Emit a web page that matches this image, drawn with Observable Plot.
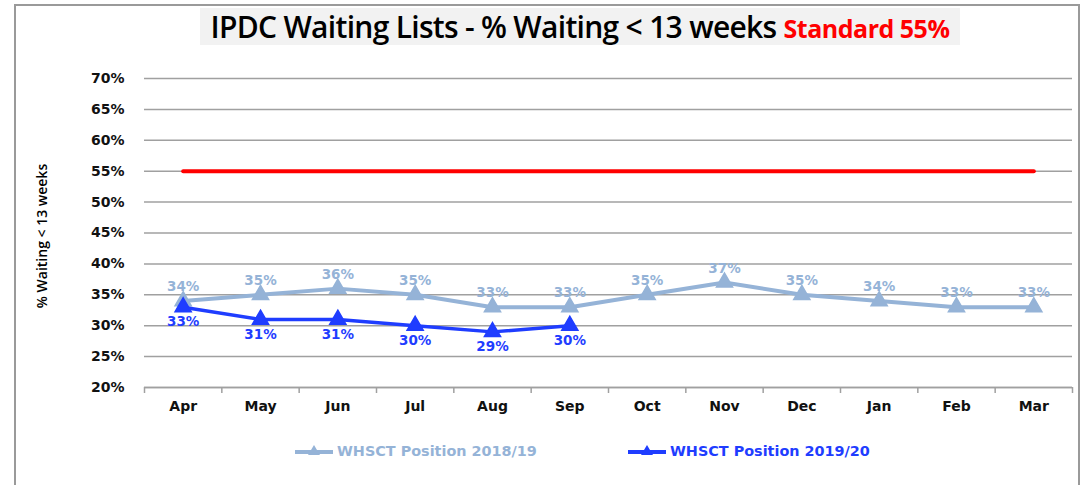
<!DOCTYPE html>
<html>
<head>
<meta charset="utf-8">
<script src="https://cdn.jsdelivr.net/npm/d3@7"></script>
<script src="https://cdn.jsdelivr.net/npm/@observablehq/plot@0.6"></script>
<style>
  html, body { margin: 0; padding: 0; background: #fff; }
  #page { position: relative; width: 1087px; height: 485px; overflow: hidden; background: #fff; }
  #frame { position: absolute; left: 14px; top: 4px; width: 1066px; height: 520px; border: 2px solid #9a9a9a; box-sizing: border-box; }
  #title { position: absolute; left: 200px; top: 8px; width: 760px; height: 37px; background: #f2f2f2;
           font-family: "Open Sans", sans-serif; font-weight: 600; font-size: 30px; line-height: 37px;
           text-align: center; color: #000; white-space: nowrap; letter-spacing: -0.7px; }
  #title .std { color: #ff0000; font-size: 25px; font-weight: 700; letter-spacing: -0.5px; }
  #chart { position: absolute; left: 0; top: 0; }
  #legend { position: absolute; top: 440px; left: 0; width: 1087px; height: 22px;
            font-family: "DejaVu Sans", sans-serif; font-weight: bold; font-size: 14.4px; }
  .item { position: absolute; top: 0; display: flex; align-items: center; height: 22px; white-space: nowrap; }
  .item svg { margin-right: 3px; }
</style>
</head>
<body>
<div id="page">
  <div id="frame"></div>
  <div id="chart"></div>
  <div id="title">IPDC Waiting Lists - % Waiting &lt; 13 weeks <span class="std">Standard 55%</span></div>
  <div id="legend"></div>
</div>
<script>
const months = ["Apr","May","Jun","Jul","Aug","Sep","Oct","Nov","Dec","Jan","Feb","Mar"];
const pos1819 = [34,35,36,35,33,33,35,37,35,34,33,33];
const pos1920 = [33,31,31,30,29,30];
const standard = 55;
const yTicks = [20,25,30,35,40,45,50,55,60,65,70];
const seriesNames = ["WHSCT Position 2018/19", "WHSCT Position 2019/20"];
const yTitle = "% Waiting < 13 weeks";

const lightC = "#95b3d7";
const darkC = "#1f3dff";

const d1819 = pos1819.map((v, i) => ({i, v}));
const d1920 = pos1920.map((v, i) => ({i, v}));
const dStd = months.map((m, i) => ({i, v: standard}));
const boundaries = d3.range(months.length + 1).map(k => k - 0.5);

const chart = Plot.plot({
  width: 1087,
  height: 430,
  marginLeft: 144,
  marginRight: 15,
  marginTop: 78,
  marginBottom: 43,
  style: {background: "transparent", overflow: "visible"},
  x: {type: "linear", domain: [-0.5, months.length - 0.5]},
  y: {domain: [20, 70]},
  marks: [
    Plot.gridY(yTicks, {stroke: "#a0a0a0", strokeOpacity: 1, strokeWidth: 1.5}),
    Plot.ruleY([20], {stroke: "#a0a0a0", strokeWidth: 1.5}),
    Plot.axisX({ticks: boundaries, tickSize: 6, tickFormat: () => "", stroke: "#a0a0a0", strokeWidth: 1.5, label: null}),
    Plot.axisX({ticks: d3.range(months.length), tickSize: 0, tickPadding: 14, tickFormat: i => months[i],
      fontSize: 14, fontWeight: "bold", fontFamily: "DejaVu Sans", fill: "#111", label: null}),
    Plot.axisY({ticks: yTicks, tickSize: 0, tickPadding: 20, tickFormat: d => d + "%",
      fontSize: 14, fontWeight: "bold", fontFamily: "DejaVu Sans", fill: "#111", label: null}),
    Plot.text([yTitle], {frameAnchor: "left", textAnchor: "middle", dx: -102, dy: 3, rotate: -90, fontSize: 14,
      fontWeight: 600, fontFamily: "Open Sans", fill: "#000"}),
    Plot.line(dStd, {x: "i", y: "v", stroke: "#ff0000", strokeWidth: 4}),
    Plot.line(d1819, {x: "i", y: "v", stroke: lightC, strokeWidth: 4}),
    Plot.dot(d1819, {x: "i", y: "v", symbol: "triangle", r: 6, fill: lightC, stroke: lightC}),
    Plot.text(d1819, {x: "i", y: "v", text: d => d.v + "%", dy: -14, fill: lightC, fontSize: 13.5,
      fontFamily: "DejaVu Sans", fontWeight: 600}),
    Plot.line(d1920, {x: "i", y: "v", stroke: darkC, strokeWidth: 3.5}),
    Plot.dot(d1920, {x: "i", y: "v", symbol: "triangle", r: 6, fill: darkC, stroke: darkC}),
    Plot.text(d1920, {x: "i", y: "v", text: d => d.v + "%", dy: 15, fill: darkC, fontSize: 13.5,
      fontFamily: "DejaVu Sans", fontWeight: "bold"})
  ]
});
document.getElementById("chart").appendChild(chart);

// legend
const legend = document.getElementById("legend");
const items = [
  {name: seriesNames[0], color: lightC, left: 294},
  {name: seriesNames[1], color: darkC, left: 627}
];
for (const it of items) {
  const div = document.createElement("div");
  div.className = "item";
  div.style.left = it.left + "px";
  div.style.color = it.color;
  div.innerHTML = `<svg width="40" height="14"><line x1="1" x2="39" y1="8" y2="8" stroke="${it.color}" stroke-width="4"/><path d="M20,1 L26,11 L14,11 Z" fill="${it.color}"/></svg><span>${it.name}</span>`;
  legend.appendChild(div);
}
</script>
</body>
</html>
